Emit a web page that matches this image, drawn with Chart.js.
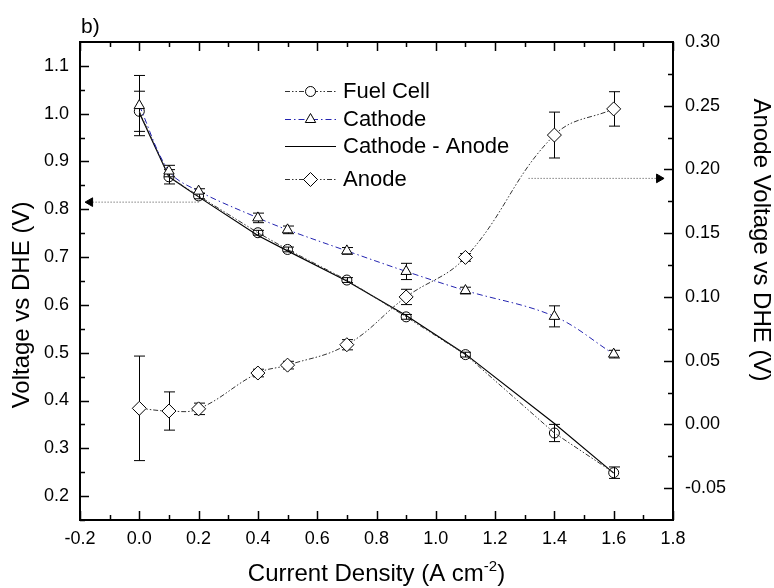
<!DOCTYPE html>
<html>
<head>
<meta charset="utf-8">
<script src="https://cdn.jsdelivr.net/npm/chart.js@4.4.1/dist/chart.umd.min.js"></script>
<style>
  html,body{margin:0;padding:0;background:#fff}
</style>
</head>
<body>
<canvas id="data_chart" width="774" height="588"></canvas>
<script>
// values
const current = [0, 0.1, 0.2, 0.4, 0.5, 0.7, 0.9, 1.1, 1.4, 1.6]
const fuelCell = [1.005, 0.868, 0.828, 0.751, 0.716, 0.652, 0.575, 0.496, 0.332, 0.249]
const fuelCellErr = [0.042, 0.015, 0.006, 0.005, 0.005, 0.005, 0.005, 0.005, 0.018, 0.012]
const cathode = [1.017, 0.880, 0.838, 0.782, 0.757, 0.713, 0.670, 0.630, 0.576, 0.497]
const cathodeErr = [0.063, 0.012, 0.005, 0.010, 0.008, 0.007, 0.017, 0.007, 0.022, 0.008]
const cathodeAnode = [1.002, 0.868, 0.826, 0.745, 0.713, 0.650, 0.578, 0.497, 0.352, 0.248]
const anode = [0.0126, 0.0105, 0.0122, 0.0403, 0.0465, 0.0625, 0.100, 0.131, 0.227, 0.2475]
const anodeErr = [0.041, 0.015, 0.0045, 0.003, 0.003, 0.004, 0.006, 0.003, 0.018, 0.0135]

// tick labels
const xTicks = [-0.2, 0, 0.2, 0.4, 0.6, 0.8, 1.0, 1.2, 1.4, 1.6, 1.8]
const yTicks = [0.2, 0.3, 0.4, 0.5, 0.6, 0.7, 0.8, 0.9, 1.0, 1.1]
const y1Ticks = [-0.05, 0, 0.05, 0.10, 0.15, 0.20, 0.25, 0.30]

// the two dotted pointer arrows
const arrowLeftX = [0.2, -0.166]
const arrowLeftY = [0.815, 0.815]
const arrowRightX = [1.313, 1.753]
const arrowRightY = [0.193, 0.193]

const FONT = "'Liberation Sans', Arial, sans-serif"
const dashDotDot = [5, 2, 1.5, 2, 1.5, 2]
const dashDot = [6, 3, 1.5, 3]
const blue = '#2424b0'

function pts(xs, ys){
  return xs.map((x, i) => ({x: x, y: ys[i]}))
}

function marker(ctx, style, x, y, r){
  ctx.beginPath()
  if(style == 'circle'){
    ctx.arc(x, y, r, 0, Math.PI*2)
  } else if(style == 'triangle'){
    ctx.moveTo(x, y - r)
    ctx.lineTo(x + r*Math.sin(Math.PI*2/3), y - r*Math.cos(Math.PI*2/3))
    ctx.lineTo(x - r*Math.sin(Math.PI*2/3), y - r*Math.cos(Math.PI*2/3))
    ctx.closePath()
  } else {
    ctx.moveTo(x, y - r); ctx.lineTo(x + r, y); ctx.lineTo(x, y + r); ctx.lineTo(x - r, y)
    ctx.closePath()
  }
  ctx.fillStyle = '#fff'
  ctx.fill()
  ctx.strokeStyle = '#000'
  ctx.lineWidth = 1
  ctx.stroke()
}

const errorBars = {
  id: 'errorBars',
  beforeDatasetsDraw(chart){
    const ctx = chart.ctx
    const xs = chart.scales.x
    ctx.save()
    ctx.strokeStyle = '#000'
    ctx.lineWidth = 1
    chart.data.datasets.forEach(ds => {
      if(!ds.errors) return
      const ys = chart.scales[ds.yAxisID || 'y']
      ds.data.forEach((p, i) => {
        const px = Math.round(xs.getPixelForValue(p.x)) + 0.5
        const t = ys.getPixelForValue(p.y + ds.errors[i])
        const b = ys.getPixelForValue(p.y - ds.errors[i])
        ctx.beginPath()
        ctx.moveTo(px, t); ctx.lineTo(px, b)
        ctx.moveTo(px - 5.5, t); ctx.lineTo(px + 5.5, t)
        ctx.moveTo(px - 5.5, b); ctx.lineTo(px + 5.5, b)
        ctx.stroke()
      })
    })
    ctx.restore()
  }
}

const decor = {
  id: 'decor',
  afterDraw(chart){
    const ctx = chart.ctx
    const a = chart.chartArea
    const sx = chart.scales.x, sy = chart.scales.y, sy1 = chart.scales.y1
    ctx.save()
    ctx.strokeStyle = '#000'
    // frame
    ctx.lineWidth = 2
    ctx.strokeRect(a.left, a.top, a.right - a.left, a.bottom - a.top)
    // inward ticks, majors on the labels and minors half way
    ctx.lineWidth = 1.5
    ctx.beginPath()
    for(let k = -2; k <= 18; k++){
      const px = Math.round(sx.getPixelForValue(k/10)) + 0.5
      const len = (k % 2 == 0) ? 9 : 5
      ctx.moveTo(px, a.bottom); ctx.lineTo(px, a.bottom - len)
      ctx.moveTo(px, a.top); ctx.lineTo(px, a.top + len)
    }
    for(let k = 3; k <= 22; k++){
      const py = Math.round(sy.getPixelForValue(k*0.05)) + 0.5
      const len = (k % 2 == 0) ? 9 : 5
      ctx.moveTo(a.left, py); ctx.lineTo(a.left + len, py)
    }
    for(let k = -2; k <= 11; k++){
      const py = Math.round(sy1.getPixelForValue(k*0.025)) + 0.5
      const len = (k % 2 == 0) ? 9 : 5
      ctx.moveTo(a.right, py); ctx.lineTo(a.right - len, py)
    }
    ctx.stroke()

    // legend
    const items = [
      {label:'Fuel Cell', y:91, color:'#333', dash:dashDotDot, style:'circle', r:5},
      {label:'Cathode', y:119, color:blue, dash:dashDot, style:'triangle', r:6},
      {label:'Cathode - Anode', y:146, color:'#000', dash:[], style:null, r:0},
      {label:'Anode', y:179, color:'#333', dash:dashDotDot, style:'diamond', r:7}
    ]
    ctx.font = '22px ' + FONT
    ctx.textBaseline = 'alphabetic'
    ctx.textAlign = 'left'
    items.forEach(it => {
      ctx.strokeStyle = it.color
      ctx.lineWidth = 1
      ctx.setLineDash(it.dash)
      ctx.beginPath()
      ctx.moveTo(285, it.y + 0.5); ctx.lineTo(336, it.y + 0.5)
      ctx.stroke()
      ctx.setLineDash([])
      if(it.style) marker(ctx, it.style, 310.5, it.y + 0.5, it.r)
      ctx.fillStyle = '#000'
      ctx.fillText(it.label, 343, it.y + 7)
    })

    // panel label and axis titles
    ctx.fillStyle = '#000'
    ctx.font = '21px ' + FONT
    ctx.fillText('b)', 81, 33)

    ctx.font = '24px ' + FONT
    const t1 = 'Current Density (A cm', sup = '-2', t2 = ')'
    const w1 = ctx.measureText(t1).width
    ctx.font = '15px ' + FONT
    const ws = ctx.measureText(sup).width
    ctx.font = '24px ' + FONT
    const w2 = ctx.measureText(t2).width
    let x0 = (a.left + a.right)/2 - (w1 + ws + w2)/2
    const base = 581
    ctx.fillText(t1, x0, base)
    ctx.font = '15px ' + FONT
    ctx.fillText(sup, x0 + w1, base - 10)
    ctx.font = '24px ' + FONT
    ctx.fillText(t2, x0 + w1 + ws, base)

    ctx.textAlign = 'center'
    ctx.textBaseline = 'middle'
    ctx.save()
    ctx.translate(22, 305)
    ctx.rotate(-Math.PI/2)
    ctx.fillText('Voltage vs DHE (V)', 0, 0)
    ctx.restore()
    ctx.save()
    ctx.translate(761, 240)
    ctx.rotate(Math.PI/2)
    ctx.fillText('Anode Voltage vs DHE (V)', 0, 0)
    ctx.restore()
    ctx.restore()
  }
}

function setTicks(list){
  return s => { s.ticks = list.map(v => ({value: v})) }
}

let data_chart = new Chart('data_chart', {
  type: 'line',
  data: {
    datasets: [
      {
        label: 'Anode', yAxisID: 'y1', order: 1,
        data: pts(current, anode), errors: anodeErr,
        borderColor: '#333', borderWidth: 1, borderDash: dashDotDot, tension: 0.4,
        pointStyle: 'rectRot', pointRadius: 7, pointBackgroundColor: '#fff',
        pointBorderColor: '#000', pointBorderWidth: 1
      },
      {
        label: 'Cathode', yAxisID: 'y', order: 2,
        data: pts(current, cathode), errors: cathodeErr,
        borderColor: blue, borderWidth: 1, borderDash: dashDot, tension: 0.35,
        pointStyle: 'triangle', pointRadius: 6, pointBackgroundColor: '#fff',
        pointBorderColor: '#000', pointBorderWidth: 1
      },
      {
        label: 'Fuel Cell', yAxisID: 'y', order: 3,
        data: pts(current, fuelCell), errors: fuelCellErr,
        borderColor: '#333', borderWidth: 1, borderDash: dashDotDot, tension: 0,
        pointStyle: 'circle', pointRadius: 5, pointBackgroundColor: 'rgba(255,255,255,0)',
        pointBorderColor: '#000', pointBorderWidth: 1
      },
      {
        label: 'Cathode - Anode', yAxisID: 'y', order: 4,
        data: pts(current, cathodeAnode),
        borderColor: '#000', borderWidth: 1.2, tension: 0, pointRadius: 0
      },
      {
        label: 'arrowL', yAxisID: 'y', order: 5,
        data: pts(arrowLeftX, arrowLeftY),
        borderColor: '#444', borderWidth: 1, borderDash: [1, 2],
        pointStyle: 'triangle', pointRadius: [0, 5], rotation: -90,
        pointBackgroundColor: '#000', pointBorderColor: '#000', pointBorderWidth: 1
      },
      {
        label: 'arrowR', yAxisID: 'y1', order: 5,
        data: pts(arrowRightX, arrowRightY),
        borderColor: '#444', borderWidth: 1, borderDash: [1, 2],
        pointStyle: 'triangle', pointRadius: [0, 5], rotation: 90,
        pointBackgroundColor: '#000', pointBorderColor: '#000', pointBorderWidth: 1
      }
    ]
  },
  options: {
    responsive: false,
    animation: false,
    layout: { padding: { top: 42, left: 0, right: 0, bottom: 0 } },
    plugins: { legend: { display: false }, tooltip: { enabled: false } },
    scales: {
      x: {
        type: 'linear', min: -0.2, max: 1.8,
        grid: { display: false, drawTicks: false }, border: { display: false },
        ticks: { padding: 8, color: '#000', font: { size: 18, family: FONT }, maxRotation: 0,
                 callback: v => v.toFixed(1) },
        afterBuildTicks: setTicks(xTicks),
        afterFit: s => { s.height = 68 }
      },
      y: {
        position: 'left', min: 0.15, max: 1.15,
        grid: { display: false, drawTicks: false }, border: { display: false },
        ticks: { padding: 11, color: '#000', font: { size: 18, family: FONT },
                 callback: v => v.toFixed(1) },
        afterBuildTicks: setTicks(yTicks),
        afterFit: s => { s.width = 80 }
      },
      y1: {
        position: 'right', min: -0.075, max: 0.30,
        grid: { display: false, drawTicks: false }, border: { display: false },
        ticks: { padding: 12, color: '#000', font: { size: 18, family: FONT },
                 callback: v => v.toFixed(2) },
        afterBuildTicks: setTicks(y1Ticks),
        afterFit: s => { s.width = 101 }
      }
    }
  },
  plugins: [errorBars, decor]
})
</script>
</body>
</html>
